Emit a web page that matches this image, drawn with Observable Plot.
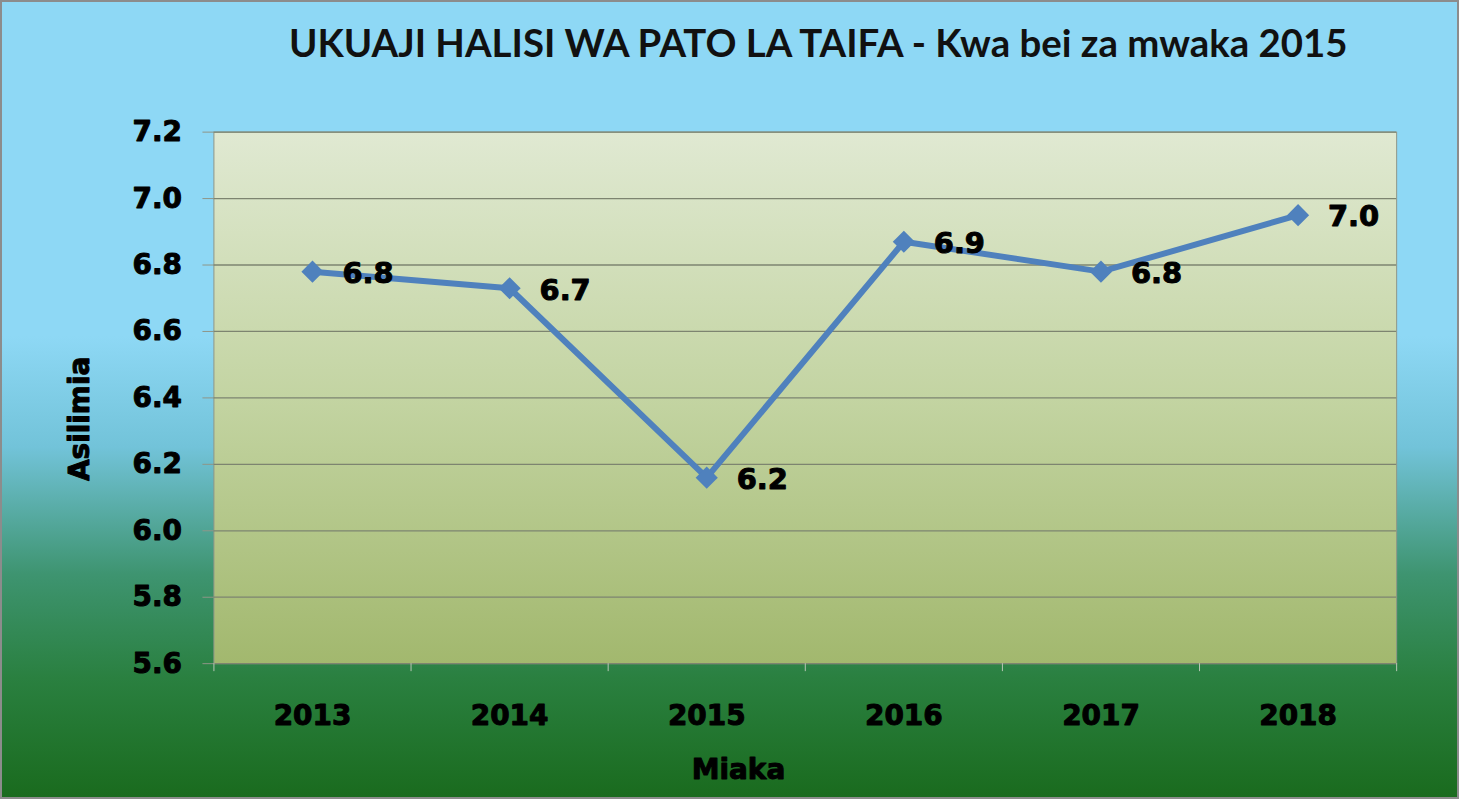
<!DOCTYPE html>
<html>
<head>
<meta charset="utf-8">
<script src="https://cdn.jsdelivr.net/npm/d3@7"></script>
<script src="https://cdn.jsdelivr.net/npm/@observablehq/plot@0.6"></script>
<style>
  html, body { margin: 0; padding: 0; }
  #wrap {
    position: relative; width: 1459px; height: 799px; overflow: hidden;
    background: linear-gradient(to bottom, #8ed8f5 0%, #8ed8f5 42%, #72c3d9 56%, #3e9470 72%, #2a8040 85%, #1a6b1e 100%);
    box-sizing: border-box; border: 2px solid #8c8c8c;
  }
  #wrap svg { position: absolute; left: -2px; top: -2px; }
</style>
</head>
<body>
<div id="wrap"></div>
<script>
const years = [2013, 2014, 2015, 2016, 2017, 2018];
const values = [6.78, 6.73, 6.16, 6.87, 6.78, 6.95];
const valueLabels = ["6.8", "6.7", "6.2", "6.9", "6.8", "7.0"];
const yTicks = [5.6, 5.8, 6.0, 6.2, 6.4, 6.6, 6.8, 7.0, 7.2];
const bandEdges = [2012.5, 2013.5, 2014.5, 2015.5, 2016.5, 2017.5, 2018.5];
const title = "UKUAJI HALISI WA PATO LA TAIFA - Kwa bei za mwaka 2015";
const xLabel = "Miaka";
const yLabel = "Asilimia";

const data = years.map((y, i) => ({year: y, value: values[i], label: valueLabels[i]}));
const heavy = "DejaVu Sans, sans-serif";
const heavyStyle = {fontSize: 28, fontWeight: "bold", fontFamily: heavy, fill: "#000", stroke: "#000", strokeWidth: 1};

const chart = Plot.plot({
  width: 1459,
  height: 799,
  marginLeft: 214,
  marginRight: 59,
  marginTop: 132,
  marginBottom: 134,
  style: {background: "transparent", overflow: "visible"},
  x: {type: "linear", domain: [2012.5, 2018.5]},
  y: {domain: [5.6, 7.2]},
  marks: [
    Plot.frame({fill: "url(#plotGrad)", stroke: "#8f9688", strokeWidth: 1}),
    Plot.gridY(yTicks, {stroke: "#7d8470", strokeOpacity: 1, strokeWidth: 1.3}),
    Plot.axisY({ticks: yTicks, tickFormat: d3.format(".1f"), tickSize: 11, tickPadding: 21,
      stroke: "#8f9688", fontSize: 28, fontWeight: "bold", fontFamily: heavy, fill: "#000",
      label: null}),
    Plot.text(yTicks, {x: 2012.5, y: d => d, text: d3.format(".1f"), dx: -32, textAnchor: "end",
      fontSize: 28, fontWeight: "bold", fontFamily: heavy, fill: "none", stroke: "#000", strokeWidth: 1}),
    Plot.axisX({ticks: years, tickFormat: d3.format("d"), tickSize: 0, tickPadding: 42,
      fontSize: 28, fontWeight: "bold", fontFamily: heavy, fill: "#000", label: null}),
    Plot.text(years, {x: d => d, frameAnchor: "bottom", dy: 42, lineAnchor: "top", text: d3.format("d"),
      fontSize: 28, fontWeight: "bold", fontFamily: heavy, fill: "none", stroke: "#000", strokeWidth: 1}),
    Plot.axisX({ticks: bandEdges, tickFormat: () => "", tickSize: 8, stroke: "#b9c7b6", label: null}),
    Plot.line(data, {x: "year", y: "value", stroke: "#4f81bd", strokeWidth: 6}),
    Plot.dot(data, {x: "year", y: "value", symbol: "diamond2", r: 10, fill: "#4f81bd", stroke: "none"}),
    Plot.text(data, {x: "year", y: "value", text: "label", dx: 30, dy: 2, textAnchor: "start", ...heavyStyle, fontSize: 29}),
    Plot.text([title], {frameAnchor: "top", dy: -103, dx: 13, fontSize: 38.5, fontWeight: "bold",
      fontFamily: "Lato, sans-serif", fill: "#111"}),
    Plot.text([xLabel], {frameAnchor: "bottom", dy: 116, dx: -67, ...heavyStyle}),
    Plot.text([yLabel], {frameAnchor: "left", dx: -134, dy: 21, rotate: -90, textAnchor: "middle", ...heavyStyle})
  ]
});

const defs = d3.create("svg:defs");
const g = defs.append("linearGradient").attr("id", "plotGrad").attr("x1", 0).attr("y1", 0).attr("x2", 0).attr("y2", 1);
g.append("stop").attr("offset", "0%").attr("stop-color", "#e0e9d2");
g.append("stop").attr("offset", "50%").attr("stop-color", "#c3d4a2");
g.append("stop").attr("offset", "100%").attr("stop-color", "#a2b86e");
chart.insertBefore(defs.node(), chart.firstChild);

document.getElementById("wrap").appendChild(chart);
</script>
</body>
</html>
